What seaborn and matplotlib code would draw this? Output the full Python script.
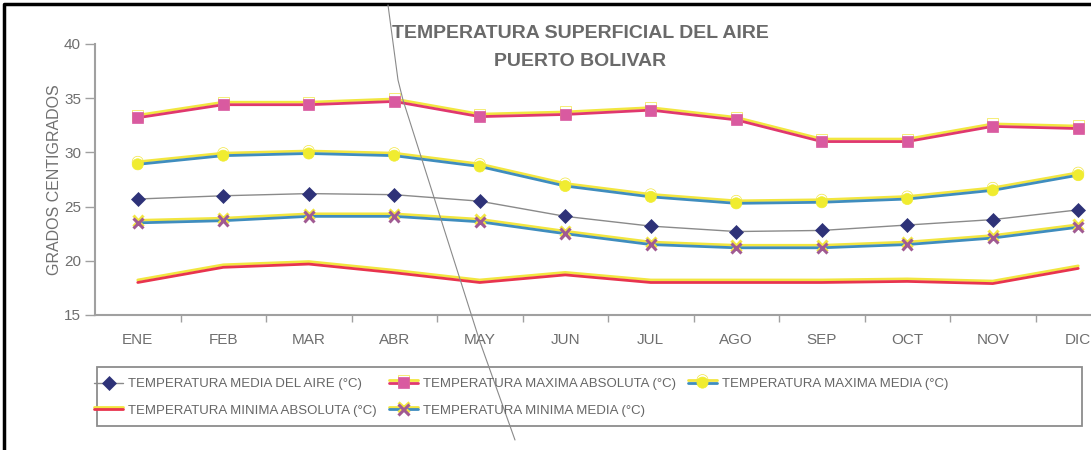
import matplotlib
matplotlib.use('Agg')
import matplotlib.pyplot as plt
import matplotlib.patheffects as pe
from matplotlib import font_manager
from matplotlib.lines import Line2D
from matplotlib.patches import Rectangle
import numpy as np
import pandas as pd
import seaborn as sns

# valores (grados centigrados)
meses = ['ENE', 'FEB', 'MAR', 'ABR', 'MAY', 'JUN', 'JUL', 'AGO', 'SEP', 'OCT', 'NOV', 'DIC']
t_media = [25.7, 26.0, 26.2, 26.1, 25.5, 24.1, 23.2, 22.7, 22.8, 23.3, 23.8, 24.7]
t_max_abs = [33.2, 34.4, 34.4, 34.7, 33.3, 33.5, 33.9, 33.0, 31.0, 31.0, 32.4, 32.2]
t_max_media = [28.9, 29.7, 29.9, 29.7, 28.7, 26.9, 25.9, 25.3, 25.4, 25.7, 26.5, 27.9]
t_min_abs = [18.0, 19.4, 19.7, 18.9, 18.0, 18.7, 18.0, 18.0, 18.0, 18.1, 17.9, 19.3]
t_min_media = [23.5, 23.7, 24.1, 24.1, 23.6, 22.5, 21.5, 21.2, 21.2, 21.5, 22.1, 23.1]

etiquetas = ['TEMPERATURA MEDIA DEL AIRE (°C)',
             'TEMPERATURA MAXIMA ABSOLUTA (°C)',
             'TEMPERATURA MAXIMA MEDIA (°C)',
             'TEMPERATURA MINIMA ABSOLUTA (°C)',
             'TEMPERATURA MINIMA MEDIA (°C)']

sns.set_theme(style='white')
nombres = set(f.name for f in font_manager.fontManager.ttflist)
fuente = 'Liberation Sans Narrow' if 'Liberation Sans Narrow' in nombres else 'Liberation Sans'
plt.rcParams['font.family'] = [fuente, 'DejaVu Sans']

W, H = 1091, 450
fig = plt.figure(figsize=(W / 100, H / 100), dpi=100)
fig.patch.set_facecolor('white')
ax = fig.add_axes([95 / W, 1 - 315 / H, (1121 - 95) / W, (315 - 44) / H])
ax.set_facecolor('white')

df = pd.DataFrame({'Mes': meses, 'media': t_media, 'max_abs': t_max_abs,
                   'max_media': t_max_media, 'min_abs': t_min_abs,
                   'min_media': t_min_media})

amarillo = '#F2E640'
def sombra():
    return [pe.SimpleLineShadow(offset=(0, 1.8), shadow_color=amarillo, alpha=1), pe.Normal()]

# columna, linea, marcador, color marcador, tam, grosor, halo
estilos = [
    ('media', '#8a8a8a', 'D', '#2E3278', 7.5, 1.0, False),
    ('max_abs', '#E0386E', 's', '#D95AA0', 8, 2.0, True),
    ('max_media', '#3F8DBE', 'o', '#F0EC30', 8, 2.0, True),
    ('min_abs', '#E8344E', '', '#E8344E', 0, 2.0, True),
    ('min_media', '#3F8DBE', 'x', '#A05A92', 7.5, 2.0, True),
]

for (col, lc, mk, mc, ms, lw, halo), lab in zip(estilos, etiquetas):
    kws = dict(marker=mk, markersize=ms, markerfacecolor=mc,
               markeredgecolor=mc, markeredgewidth=2.2 if mk == 'x' else 0.5)
    if halo:
        kws['path_effects'] = sombra()
    sns.lineplot(data=df, x='Mes', y=col, ax=ax, sort=False, color=lc,
                 linewidth=lw, label=lab, legend=False, **kws)

ax.set_xlim(-0.5, 11.5)
ax.set_ylim(15, 40)
ax.set_yticks([15, 20, 25, 30, 35, 40])
ax.set_xticks(range(len(meses)))
ax.set_xticklabels(meses)
ax.set_xticks(np.arange(0.5, 11, 1), minor=True)
ax.tick_params(axis='x', which='major', length=0, pad=13, labelsize=11, labelcolor='#6E6E6E')
ax.tick_params(axis='x', which='minor', length=5, width=1, color='#A0A0A0', direction='out', bottom=True)
ax.tick_params(axis='y', length=7, width=1, color='#A0A0A0', direction='out', left=True,
               pad=3, labelsize=11, labelcolor='#6E6E6E')
ax.set_xlabel('')
ax.set_ylabel('GRADOS CENTIGRADOS', fontsize=11.5, color='#707070')
ax.yaxis.set_label_coords(-0.032, 0.5)
sns.despine(ax=ax)
for s in ['left', 'bottom']:
    ax.spines[s].set_color('#A0A0A0')
    ax.spines[s].set_linewidth(1.5)
ax.grid(False)

fig.text(580 / W, 1 - 33 / H, 'TEMPERATURA SUPERFICIAL DEL AIRE', ha='center', va='center',
         fontsize=14, fontweight='bold', color='#6A6A6A')
fig.text(580 / W, 1 - 62 / H, 'PUERTO BOLIVAR', ha='center', va='center',
         fontsize=14, fontweight='bold', color='#6A6A6A')

# leyenda en filas como en el original
h = ax.get_lines()[:5]
orden = [0, 3, 1, 4, 2]
fig.legend([h[i] for i in orden], [etiquetas[i] for i in orden], loc='upper left',
           bbox_to_anchor=(94 / W, 1 - 378 / H), ncol=3, frameon=False, fontsize=9.5,
           handlelength=2.2, handletextpad=0.4, columnspacing=0.9, labelspacing=1.1,
           borderaxespad=0, borderpad=0, labelcolor='#666666')
fig.add_artist(Rectangle((97 / W, 1 - 426 / H), (1082 - 97) / W, 59 / H, transform=fig.transFigure,
                         fill=False, ec='#8C8C8C', lw=1.3))

# marco y pliegue del papel escaneado
fig.add_artist(Line2D([4 / W, 4 / W, 1], [0, 1 - 4 / H, 1 - 4 / H], transform=fig.transFigure,
                      color='black', lw=2.5))
fig.add_artist(Line2D([388 / W, 398 / W, 403 / W, 480 / W, 515 / W],
                      [1 - 5 / H, 1 - 80 / H, 1 - 100 / H, 1 - 342 / H, 1 - 440 / H],
                      transform=fig.transFigure, color='#8A8A8A', lw=0.8))

fig.savefig('out.png', dpi=100, facecolor='white')
